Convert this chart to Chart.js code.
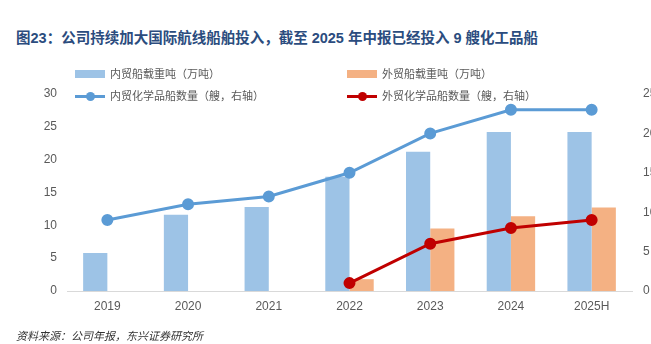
<!DOCTYPE html>
<html>
<head>
<meta charset="utf-8">
<script src="https://cdn.jsdelivr.net/npm/chart.js@4/dist/chart.umd.min.js"></script>
<style>
  html, body { margin: 0; padding: 0; background: #fff; }
  body { width: 651px; height: 344px; position: relative; overflow: hidden;
         font-family: "Liberation Sans", "Noto Sans CJK SC", sans-serif; }
  #chart { position: absolute; left: 0; top: 0; }
  .title { position: absolute; left: 16px; top: 28px; font-size: 14.5px; font-weight: bold;
           color: #2b4c7e; white-space: nowrap; line-height: 20px; }
  .source { position: absolute; left: 16px; top: 328px; font-size: 11px; font-style: italic;
            color: #333; white-space: nowrap; line-height: 16px; }
  .legend-item { position: absolute; font-size: 11px; color: #595959; white-space: nowrap;
                 line-height: 14px; display: flex; align-items: center; }
  .swatch { width: 30px; margin-right: 5px; position: relative; height: 14px; }
  .swatch .box { position: absolute; left: 0; right: 0; top: 3px; height: 8px; }
  .swatch .ln { position: absolute; left: 0; right: 0; top: 5.5px; height: 3px; }
  .swatch .dot { position: absolute; left: 10.5px; top: 2.5px; width: 9px; height: 9px; border-radius: 50%; }
</style>
</head>
<body>
<div class="title">图23：公司持续加大国际航线船舶投入，截至 2025 年中报已经投入 9 艘化工品船</div>
<canvas id="chart" width="651" height="344"></canvas>
<div id="legend"></div>
<div class="source">资料来源：公司年报，东兴证券研究所</div>
<script>
const categories = ['2019', '2020', '2021', '2022', '2023', '2024', '2025H'];
const domesticTonnage = [5.8, 11.6, 12.8, 17.4, 21.2, 24.2, 24.2];
const foreignTonnage = [null, null, null, 1.8, 9.5, 11.4, 12.7];
const domesticShips = [9, 11, 12, 15, 20, 23, 23];
const foreignShips = [null, null, null, 1, 6, 8, 9];
const seriesLabels = ['内贸船载重吨（万吨）', '外贸船载重吨（万吨）', '内贸化学品船数量（艘，右轴）', '外贸化学品船数量（艘，右轴）'];
const leftTicks = [0, 5, 10, 15, 20, 25, 30];
const rightTicks = [0, 5, 10, 15, 20, 25];

const colors = ['#9dc3e6', '#f4b183', '#5b9bd5', '#c00000'];

// legend in html, it sits over the top of the plot like in the original
const legendPos = [[75, 67], [347, 67], [75, 89], [347, 89]];
const legend = document.getElementById('legend');
seriesLabels.forEach(function(label, i) {
    const item = document.createElement('div');
    item.className = 'legend-item';
    item.style.left = legendPos[i][0] + 'px';
    item.style.top = legendPos[i][1] + 'px';
    let sw = '<div class="swatch">';
    if (i < 2) {
        sw += '<div class="box" style="background:' + colors[i] + '"></div>';
    } else {
        sw += '<div class="ln" style="background:' + colors[i] + '"></div>' +
              '<div class="dot" style="background:' + colors[i] + '"></div>';
    }
    sw += '</div>';
    item.innerHTML = sw + '<span>' + label + '</span>';
    legend.appendChild(item);
});

const tickFont = { family: '"Liberation Sans", Arial, sans-serif', size: 12 };

new Chart(document.getElementById('chart'), {
    type: 'bar',
    data: {
        labels: categories,
        datasets: [
            { type: 'line', label: seriesLabels[2], data: domesticShips, yAxisID: 'y1',
              borderColor: colors[2], backgroundColor: colors[2], borderWidth: 3,
              pointRadius: 4.5, pointHoverRadius: 4.5, order: 0 },
            { type: 'line', label: seriesLabels[3], data: foreignShips, yAxisID: 'y1',
              borderColor: colors[3], backgroundColor: colors[3], borderWidth: 3,
              pointRadius: 4.5, pointHoverRadius: 4.5, order: 0 },
            { label: seriesLabels[0], data: domesticTonnage, yAxisID: 'y',
              backgroundColor: colors[0], order: 1 },
            { label: seriesLabels[1], data: foreignTonnage, yAxisID: 'y',
              backgroundColor: colors[1], order: 1 }
        ]
    },
    options: {
        responsive: false,
        animation: false,
        layout: { padding: { top: 94, left: 0, right: 0, bottom: 0 } },
        datasets: { bar: { categoryPercentage: 0.6, barPercentage: 1.0 } },
        plugins: { legend: { display: false }, tooltip: { enabled: false } },
        scales: {
            x: {
                offset: true,
                grid: { display: false },
                border: { color: '#d9d9d9', width: 1 },
                ticks: { color: '#595959', font: tickFont, padding: 0 },
                afterFit: function(s) { s.height = 53; }
            },
            y: {
                position: 'left', min: 0, max: 30,
                afterBuildTicks: function(s) { s.ticks = leftTicks.map(v => ({ value: v })); },
                grid: { display: false },
                border: { display: false },
                ticks: { color: '#595959', font: tickFont, padding: 2 },
                afterFit: function(s) { s.width = 67; }
            },
            y1: {
                position: 'right', min: 0, max: 25,
                afterBuildTicks: function(s) { s.ticks = rightTicks.map(v => ({ value: v })); },
                grid: { display: false },
                border: { display: false },
                ticks: { color: '#595959', font: tickFont, padding: 3 },
                afterFit: function(s) { s.width = 19; }
            }
        }
    }
});
</script>
</body>
</html>
